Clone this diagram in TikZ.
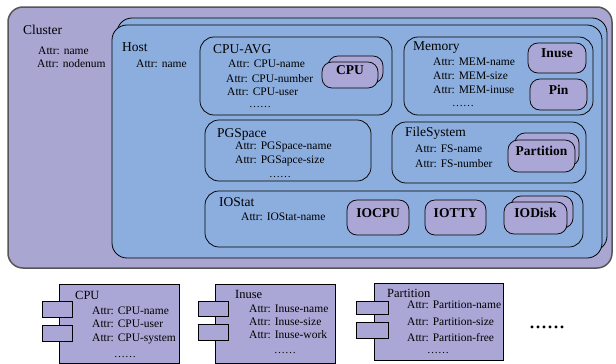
\documentclass[tikz,border=0pt]{standalone}
\usepackage{fontspec}
\setmainfont{Liberation Serif}
\usetikzlibrary{fit}
\definecolor{clusterfill}{HTML}{A9A6D2}
\definecolor{clusterline}{HTML}{555555}
\definecolor{hostfill}{HTML}{8CAEDE}
\definecolor{entfill}{HTML}{AAA6D6}
\definecolor{compfill}{HTML}{AAA7D6}
\begin{document}
\begin{tikzpicture}[x=1pt,y=-1pt,
  cluster/.style={draw=clusterline, line width=1.5pt, fill=clusterfill, rounded corners=15pt, inner sep=0pt},
  host/.style={draw=black, line width=0.8pt, fill=hostfill, rounded corners=15pt, inner sep=0pt},
  group/.style={draw=black, line width=0.75pt, rounded corners=14pt, inner sep=0pt},
  entity/.style={draw=black, line width=0.75pt, fill=entfill, rounded corners=10pt, inner sep=0pt,
    font=\rmfamily\bfseries\fontsize{13.5}{15}\selectfont},
  comp/.style={draw=black, line width=0.8pt, fill=compfill, inner sep=0pt},
  port/.style={draw=black, line width=0.8pt, fill=compfill, inner sep=0pt},
  title/.style={font=\rmfamily\fontsize{13.5}{15}\selectfont, anchor=west, inner sep=0pt},
  attr/.style={font=\rmfamily\fontsize{11.5}{13}\selectfont, anchor=west, inner sep=0pt},
  dots/.style={font=\rmfamily\fontsize{11}{13}\selectfont, inner sep=0pt},
  bigdots/.style={font=\rmfamily\fontsize{24}{26}\selectfont, inner sep=0pt}]
\useasboundingbox (0,0) rectangle (616,364);

% Cluster
\node[cluster, fit={(8,7) (612,268)}] (cluster) {};
\node[title] (clt) at (23,30) {Cluster};
\node[attr] (cla1) at (38,51) {Attr: name};
\node[attr] (cla2) at (37,64) {Attr: nodenum};

% Host
\node[host, fit={(117,18) (607,251)}] (hostback) {};
\node[host, fit={(112,25) (602,258)}] (host) {};
\node[title] (hostt) at (122,47) {Host};
\node[attr] (hosta) at (136,64) {Attr: name};

% CPU-AVG
\node[group, fit={(200,37) (392,115)}] (cpuavg) {};
\node[title] (cpuavgt) at (213,49) {CPU-AVG};
\node[attr] (cpua1) at (228,64) {Attr: CPU-name};
\node[attr] (cpua2) at (226,79) {Attr: CPU-number};
\node[attr] (cpua3) at (227,92) {Attr: CPU-user};
\node[dots] (cpua4) at (260,107) {……};
\node[entity, fit={(328,56) (383,83)}] (cpuback) {};
\node[entity, fit={(322,62) (378,88)}] (cpu) {CPU};

% Memory
\node[group, fit={(404,37) (593,115)}] (memory) {};
\node[title] (memt) at (413,48) {Memory};
\node[attr] (mema1) at (433,62) {Attr: MEM-name};
\node[attr] (mema2) at (433,76) {Attr: MEM-size};
\node[attr] (mema3) at (433,90) {Attr: MEM-inuse};
\node[dots] (mema4) at (463,106) {……};
\node[entity, fit={(528,43) (586,73)}] (inuse) {Inuse};
\node[entity, fit={(530,79) (587,110)}] (pin) {Pin};

% PGSpace
\node[group, fit={(205,120) (371,181)}] (pgspace) {};
\node[title] (pgt) at (217,134) {PGSpace};
\node[attr] (pga1) at (235,147) {Attr: PGSpace-name};
\node[attr] (pga2) at (235,161) {Attr: PGSapce-size};
\node[dots] (pga3) at (280,177) {……};

% FileSystem
\node[group, fit={(392,122) (586,183)}] (fs) {};
\node[title] (fst) at (405,133) {FileSystem};
\node[attr] (fsa1) at (415,149) {Attr: FS-name};
\node[attr] (fsa2) at (415,164) {Attr: FS-number};
\node[entity, fit={(515,133) (579,166)}] (partback) {};
\node[entity, fit={(508,140) (575,172)}] (part) {Partition};

% IOStat
\node[group, fit={(205,191) (583,247)}] (iostat) {};
\node[title] (iot) at (219,202) {IOStat};
\node[attr] (ioa1) at (241,217) {Attr: IOStat-name};
\node[entity, fit={(347,200) (409,235)}] (iocpu) {IOCPU};
\node[entity, fit={(425,200) (486,235)}] (iotty) {IOTTY};
\node[entity, fit={(511,196) (573,228)}] (iodiskback) {};
\node[entity, fit={(504,202) (567,234)}] (iodisk) {IODisk};

% Bottom components
\node[comp, fit={(59,284) (179,363)}] (ccpu) {};
\node[port, fit={(42,301) (72,317)}] (ccpup1) {};
\node[port, fit={(42,325) (72,341)}] (ccpup2) {};
\node[title, font=\rmfamily\fontsize{12.5}{14}\selectfont] (ccput) at (75,295) {CPU};
\node[attr] (ccpua1) at (92,311) {Attr: CPU-name};
\node[attr] (ccpua2) at (92,324) {Attr: CPU-user};
\node[attr] (ccpua3) at (92,339) {Attr: CPU-system};
\node[dots] (ccpua4) at (125,357) {……};

\node[comp, fit={(215,284) (335,363)}] (cinuse) {};
\node[port, fit={(198,301) (228,316)}] (cinusep1) {};
\node[port, fit={(198,324) (228,340)}] (cinusep2) {};
\node[title, font=\rmfamily\fontsize{12.5}{14}\selectfont] (cinuset) at (235,294) {Inuse};
\node[attr] (cinusea1) at (249,309) {Attr: Inuse-name};
\node[attr] (cinusea2) at (249,322) {Attr: Inuse-size};
\node[attr] (cinusea3) at (249,335) {Attr: Inuse-work};
\node[dots] (cinusea4) at (285,353) {……};

\node[comp, fit={(374,283) (503,360)}] (cpart) {};
\node[port, fit={(356,301) (388,314)}] (cpartp1) {};
\node[port, fit={(356,322) (388,338)}] (cpartp2) {};
\node[title, font=\rmfamily\fontsize{12.5}{14}\selectfont] (cpartt) at (387,293) {Partition};
\node[attr] (cparta1) at (407,305) {Attr: Partition-name};
\node[attr] (cparta2) at (407,322) {Attr: Partition-size};
\node[attr] (cparta3) at (407,338) {Attr: Partition-free};
\node[dots] (cparta4) at (438,353) {……};

\node[bigdots] (more) at (547,327) {......};
\end{tikzpicture}
\end{document}
